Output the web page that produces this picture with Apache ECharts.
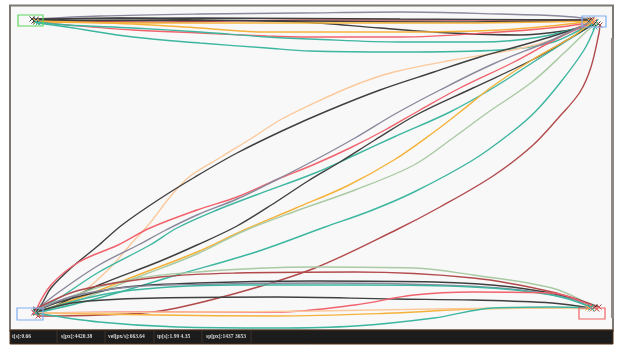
<!DOCTYPE html>
<html>
<head>
<meta charset="utf-8">
<script src="https://cdn.jsdelivr.net/npm/echarts@6/dist/echarts.min.js"></script>
<style>
  html, body { margin: 0; padding: 0; background: #ffffff; }
  #chart { width: 617px; height: 345px; }
</style>
</head>
<body>
<div id="chart"></div>
<script>
// Screen space of the tracking canvas (pixels, y grows downward)
const canvasWidth = 617;
const canvasHeight = 345;

// Target boxes: [x0, y0, x1, y1]
const targetBoxes = [[18, 15, 43, 26], [582, 16, 606, 27], [17, 308, 43, 320], [579, 308, 605, 319]];
const targetColors = ['#5cd65c', '#80aef2', '#80aef2', '#f26464'];

// Trajectories: top-left -> top-right
const topRoutes = [
  [[36,19],[100,16],[200,14],[300,13],[400,12],[500,14],[560,16],[592,19]],
  [[36,20],[120,18],[200,20],[300,22],[380,28],[450,33],[520,35],[570,30],[598,24]],
  [[36,21],[150,22],[300,20],[450,20],[550,20],[592,20]],
  [[34,21],[150,20],[300,21],[450,22],[560,21],[595,22]],
  [[36,21],[133,24],[200,28],[267,32],[310,32],[400,32],[500,30],[560,25],[592,21]],
  [[36,22],[150,23],[300,23],[450,23],[590,21]],
  [[36,22],[67,25],[133,30],[200,33],[267,36],[310,37],[400,37],[500,32],[560,27],[594,22]],
  [[36,22],[67,25],[133,28],[200,32],[267,37],[310,39],[400,42],[480,42],[540,37],[594,23]],
  [[38,23],[67,27],[133,37],[200,43],[267,48],[310,51],[400,52],[500,50],[550,43],[580,30],[596,22]],
  [[32,19],[200,18],[400,19],[590,20]]
];
const topColors = ['gray','black','darkred','black','orange','orange','red','teal','teal','black'];

// Trajectories: bottom-left -> top-right
const diagonalRoutes = [
  [[36,313],[51,308],[79,295],[110,268],[130,245],[150,223],[170,197],[189,177],[221,157],[252,138],[280,120],[310,105],[355,85],[394,72],[453,60],[512,50],[552,40],[584,24],[594,20]],
  [[36,312],[43,302],[51,288],[71,268],[99,245],[122,225],[158,200],[195,177],[237,153],[284,130],[327,111],[380,90],[434,72],[480,57],[530,43],[572,30],[594,22]],
  [[36,310],[51,285],[79,262],[118,245],[150,228],[197,210],[237,197],[276,180],[315,164],[350,148],[385,130],[420,110],[460,88],[512,63],[560,37],[594,22]],
  [[36,310],[59,292],[99,265],[138,245],[166,230],[197,215],[237,199],[276,180],[315,160],[355,138],[395,114],[440,90],[493,64],[552,40],[590,22]],
  [[36,310],[59,298],[99,272],[150,245],[177,228],[217,210],[256,195],[315,173],[355,155],[394,137],[450,112],[493,88],[532,63],[565,42],[592,25]],
  [[36,313],[51,308],[99,285],[158,262],[197,245],[237,226],[276,202],[308,181],[340,162],[375,140],[418,114],[473,88],[532,60],[572,37],[594,24]],
  [[36,312],[79,298],[138,275],[197,252],[244,230],[296,208],[347,186],[394,160],[434,132],[460,112],[493,86],[532,60],[572,37],[592,22]],
  [[36,312],[79,300],[138,277],[197,254],[244,231],[296,211],[355,190],[414,165],[453,138],[487,113],[532,82],[564,53],[588,30],[596,24]],
  [[36,313],[99,298],[177,275],[256,252],[325,227],[370,211],[414,192],[473,160],[512,132],[535,112],[560,83],[584,50],[595,27]],
  [[38,316],[100,315],[160,311],[237,293],[315,268],[398,229],[440,207],[493,176],[532,146],[560,116],[580,92],[591,67],[599,33],[600,25]]
];
const diagonalColors = ['peach','black','red','gray','teal','black','orange','green','teal','darkred'];

// Trajectories: bottom-left -> bottom-right
const bottomRoutes = [
  [[36,310],[39,308],[118,282],[197,272],[315,267],[414,268],[473,275],[552,288],[591,305],[596,309]],
  [[36,309],[80,290],[160,277],[237,273],[355,272],[473,278],[552,292],[599,307]],
  [[36,311],[59,302],[118,288],[197,283],[315,281],[434,282],[512,287],[572,298],[595,307]],
  [[34,312],[70,297],[130,287],[220,284],[330,283],[440,285],[520,290],[575,300],[592,309]],
  [[36,312],[118,292],[237,285],[355,285],[473,287],[552,295],[591,307]],
  [[36,312],[79,302],[158,298],[276,297],[394,299],[473,300],[552,303],[591,308]],
  [[34,313],[158,312],[276,312],[355,305],[414,295],[473,292],[552,293],[591,305],[597,309]],
  [[36,313],[158,315],[276,316],[394,313],[473,309],[552,308],[588,308]],
  [[36,313],[197,312],[315,311],[434,309],[552,308],[590,309]],
  [[36,313],[99,322],[177,327],[276,328],[355,326],[434,318],[493,308],[552,307],[591,308]]
];
const bottomColors = ['green','darkred','black','gray','teal','black','red','orange','peach','teal'];

// Status readout shown in the bar under the canvas
const statusLabels = ['t[s]:0.66', 's[px]:4420.38', 'vel[px/s]:663.64', 'tp[s]:1.99 4.35', 'sp[px]:1437 3653'];

const palette = {
  black: '#3f3f3f',
  gray: '#8a889c',
  red: '#f2626c',
  teal: '#3db6a0',
  orange: '#f5b23a',
  peach: '#fbc99c',
  green: '#a9caa3',
  darkred: '#b24a4c'
};

const crossSymbol = 'path://M0,0L10,10M10,0L0,10';

function routeSeries(route, key) {
  const c = palette[key];
  const last = route.length - 1;
  return {
    type: 'line',
    data: route,
    smooth: 0.35,
    showSymbol: true,
    symbol: crossSymbol,
    symbolSize: (v, p) => (p.dataIndex === 0 || p.dataIndex === last) ? 5 : 0,
    itemStyle: { color: c, borderColor: c, borderWidth: 1 },
    lineStyle: { color: c, width: 1.4 },
    emphasis: { disabled: true },
    silent: true,
    animation: false,
    z: 3
  };
}

const series = [];
topRoutes.forEach((r, i) => series.push(routeSeries(r, topColors[i])));
diagonalRoutes.forEach((r, i) => series.push(routeSeries(r, diagonalColors[i])));
bottomRoutes.forEach((r, i) => series.push(routeSeries(r, bottomColors[i])));

// Target boxes drawn through the axes
series.push({
  type: 'custom',
  data: targetBoxes.map((b, i) => [b[0], b[1], b[2], b[3], i]),
  renderItem: (params, api) => {
    const p0 = api.coord([api.value(0), api.value(1)]);
    const p1 = api.coord([api.value(2), api.value(3)]);
    return {
      type: 'rect',
      shape: { x: p0[0], y: p0[1], width: p1[0] - p0[0], height: p1[1] - p0[1] },
      style: { fill: 'none', stroke: targetColors[api.value(4)], lineWidth: 1.2 }
    };
  },
  silent: true,
  animation: false,
  z: 4
});

// Frame, scroll strip and status bar
const barX = 10, barY = 330, barW = 603, barH = 14;
const labelX = [12, 61, 108, 157, 206];
const dividerX = [57, 105, 154, 202, 251];
const graphics = [
  { type: 'rect', z: -10, shape: { x: 10, y: 5.5, width: 603, height: 325 },
    style: { fill: '#f8f8f8', stroke: '#7c7873', lineWidth: 2 } },
  { type: 'rect', z: 10, shape: { x: 611, y: 38, width: 3, height: 280 },
    style: { fill: '#8e8a85' } },
  { type: 'rect', z: 10, shape: { x: barX, y: barY, width: barW, height: barH },
    style: { fill: '#1c1c1c', stroke: '#4e2e16', lineWidth: 1 } }
];
dividerX.forEach(x => graphics.push({
  type: 'line', z: 11, shape: { x1: x, y1: barY + 1, x2: x, y2: barY + barH - 1 },
  style: { stroke: '#4a3a30', lineWidth: 0.8 }
}));
statusLabels.forEach((t, i) => graphics.push({
  type: 'text', z: 12, x: labelX[i], y: barY + 7,
  style: { text: t, fill: '#d4d4d4', fontSize: 5.5, fontWeight: 'bold', fontFamily: 'Liberation Serif', verticalAlign: 'middle' }
}));

const chart = echarts.init(document.getElementById('chart'), null, { renderer: 'canvas' });
chart.setOption({
  backgroundColor: '#ffffff',
  animation: false,
  grid: { left: 0, right: 0, top: 0, bottom: 0 },
  xAxis: { type: 'value', min: 0, max: canvasWidth, show: false },
  yAxis: { type: 'value', min: 0, max: canvasHeight, inverse: true, show: false },
  graphic: graphics,
  series: series
});
</script>
</body>
</html>
